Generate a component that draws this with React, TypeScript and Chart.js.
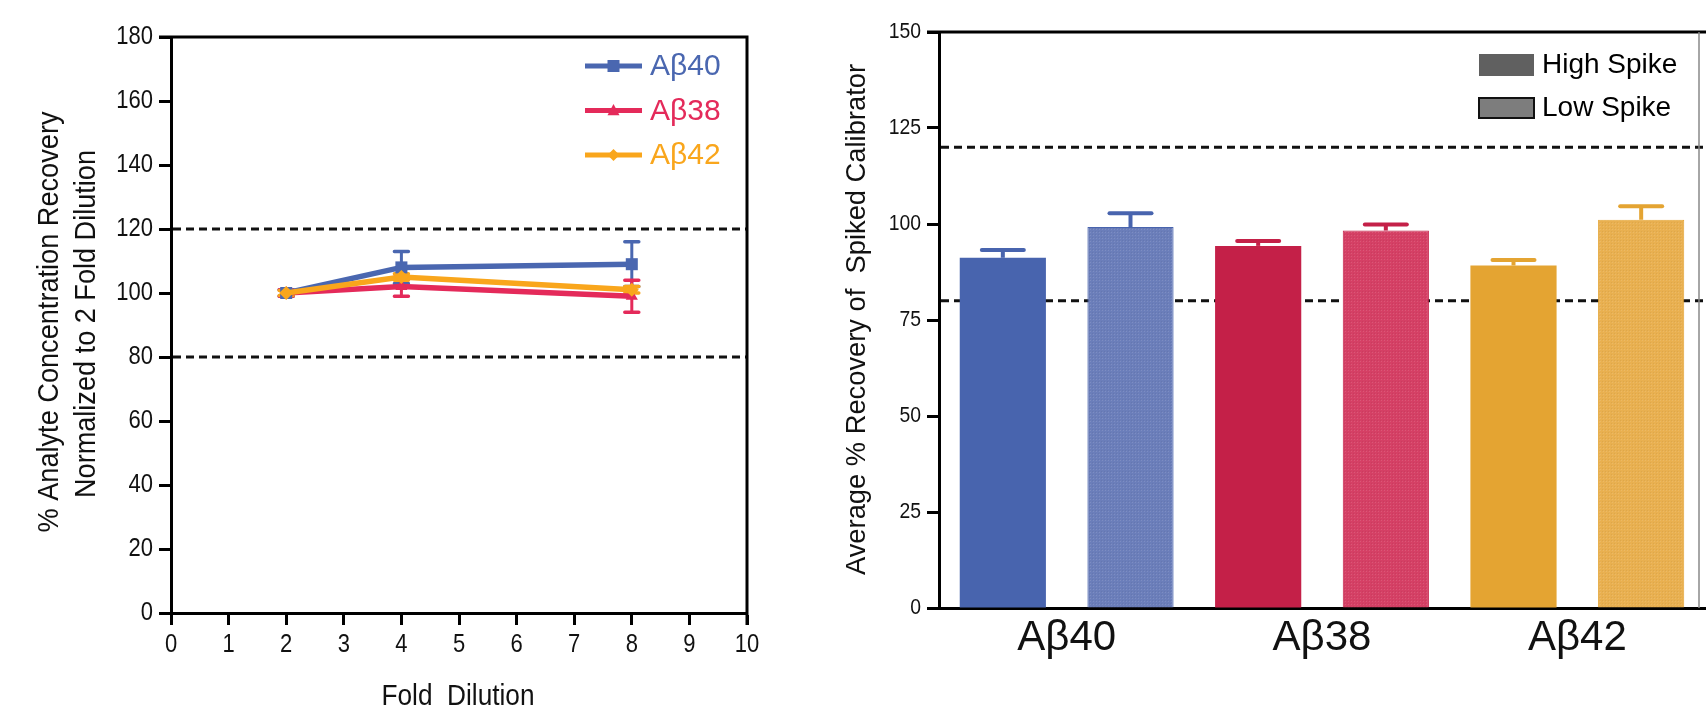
import React, { useEffect, useRef } from 'react';
import { Chart, registerables } from 'chart.js';
Chart.register(...registerables);

// ---------- data (left: dilution linearity) ----------
const dilutionFolds = [2, 4, 8];
const ab40Recovery = [100, 108, 109];
const ab40Error = [1, 5, 7];
const ab38Recovery = [100, 102, 99];
const ab38Error = [1, 3, 5];
const ab42Recovery = [100, 105, 101];
const ab42Error = [0.8, 1, 1];
const acceptanceLimits = [80, 120];

// ---------- data (right: spike recovery) ----------
const analytes = ['Aβ40', 'Aβ38', 'Aβ42'];
const highSpikeRecovery = [91.2, 94.3, 89.2];
const highSpikeError = [2.0, 1.3, 1.4];
const lowSpikeRecovery = [99.2, 98.3, 101.1];
const lowSpikeError = [3.6, 1.6, 3.5];

const SANS = "'Liberation Sans', Arial, Helvetica, sans-serif";
const BLUE = '#4A67B0';
const RED = '#E42A5A';
const ORANGE = '#F9A61C';
const highColors = ['#4864AE', '#C42048', '#E4A432'];
const lowColors = ['#6B7EBA', '#D54065', '#E9B050'];

const lineSeries = [
  { label: 'Aβ40', values: ab40Recovery, err: ab40Error, color: BLUE, style: 'rect', order: 1 },
  { label: 'Aβ38', values: ab38Recovery, err: ab38Error, color: RED, style: 'triangle', order: 2 },
  { label: 'Aβ42', values: ab42Recovery, err: ab42Error, color: ORANGE, style: 'rectRot', order: 0 },
];

type TxtOpts = {
  size: number;
  color?: string;
  align?: CanvasTextAlign;
  sx?: number;
  width?: number;
  rotate?: boolean;
};

function txt(ctx: CanvasRenderingContext2D, s: string, x: number, y: number, o: TxtOpts) {
  ctx.save();
  ctx.translate(x, y);
  if (o.rotate) ctx.rotate(-Math.PI / 2);
  ctx.font = `${o.size}px ${SANS}`;
  const w = ctx.measureText(s).width;
  const k = o.width ? o.width / w : o.sx ?? 1;
  ctx.scale(k, 1);
  ctx.fillStyle = o.color ?? '#111';
  ctx.textAlign = o.align ?? 'center';
  ctx.textBaseline = 'middle';
  ctx.fillText(s, 0, 0);
  ctx.restore();
}

function marker(ctx: CanvasRenderingContext2D, style: string, x: number, y: number, r: number, color: string) {
  ctx.save();
  ctx.fillStyle = color;
  ctx.beginPath();
  if (style === 'rect') {
    ctx.rect(x - r, y - r, 2 * r, 2 * r);
  } else if (style === 'triangle') {
    ctx.moveTo(x, y - r * 1.1);
    ctx.lineTo(x + r, y + r * 0.8);
    ctx.lineTo(x - r, y + r * 0.8);
    ctx.closePath();
  } else {
    ctx.moveTo(x, y - r);
    ctx.lineTo(x + r, y);
    ctx.lineTo(x, y + r);
    ctx.lineTo(x - r, y);
    ctx.closePath();
  }
  ctx.fill();
  ctx.restore();
}

function dashed(ctx: CanvasRenderingContext2D, x0: number, x1: number, py: number) {
  ctx.save();
  ctx.setLineDash([8, 5]);
  ctx.lineWidth = 3;
  ctx.strokeStyle = '#111';
  ctx.beginPath();
  ctx.moveTo(x0, py);
  ctx.lineTo(x1, py);
  ctx.stroke();
  ctx.restore();
}

function dotted(base: string): CanvasPattern | string {
  const c = document.createElement('canvas');
  c.width = 3;
  c.height = 3;
  const g = c.getContext('2d');
  if (!g) return base;
  g.fillStyle = base;
  g.fillRect(0, 0, 3, 3);
  g.fillStyle = 'rgba(255,255,255,0.12)';
  g.fillRect(1, 1, 1, 1);
  g.fillStyle = 'rgba(0,0,0,0.05)';
  g.fillRect(0, 0, 1, 1);
  return g.createPattern(c, 'repeat') ?? base;
}

const lineDeco = {
  id: 'lineDeco',
  beforeDatasetsDraw(chart: any) {
    const { ctx, chartArea, scales } = chart;
    const y = scales.y;
    acceptanceLimits.forEach((v) => dashed(ctx, chartArea.left + 2, chartArea.right, y.getPixelForValue(v)));
    lineSeries.forEach((s, i) => {
      const meta = chart.getDatasetMeta(i);
      meta.data.forEach((pt: any, j: number) => {
        const hi = y.getPixelForValue(s.values[j] + s.err[j]);
        const lo = y.getPixelForValue(s.values[j] - s.err[j]);
        ctx.save();
        ctx.strokeStyle = s.color;
        ctx.lineWidth = 3;
        ctx.beginPath();
        ctx.moveTo(pt.x, hi);
        ctx.lineTo(pt.x, lo);
        ctx.stroke();
        ctx.lineWidth = 3.5;
        ctx.lineCap = 'round';
        ctx.beginPath();
        ctx.moveTo(pt.x - 7, hi);
        ctx.lineTo(pt.x + 7, hi);
        ctx.moveTo(pt.x - 7, lo);
        ctx.lineTo(pt.x + 7, lo);
        ctx.stroke();
        ctx.restore();
      });
    });
  },
  afterDraw(chart: any) {
    const { ctx, chartArea, scales } = chart;
    const { left, right, top, bottom } = chartArea;
    ctx.save();
    ctx.strokeStyle = '#000';
    ctx.lineWidth = 3;
    ctx.beginPath();
    ctx.moveTo(left - 12, top);
    ctx.lineTo(right + 1.5, top);
    ctx.moveTo(right, top);
    ctx.lineTo(right, bottom + 12);
    ctx.stroke();
    ctx.restore();
    scales.y.ticks.forEach((t: any) => {
      txt(ctx, String(t.value), 153, scales.y.getPixelForValue(t.value), { size: 26.5, sx: 0.83, align: 'right' });
    });
    scales.x.ticks.forEach((t: any) => {
      txt(ctx, String(t.value), scales.x.getPixelForValue(t.value), 645, { size: 26.5, sx: 0.83 });
    });
    txt(ctx, '% Analyte Concentration Recovery', 50, 322, { size: 30, width: 421, rotate: true });
    txt(ctx, 'Normalized to 2 Fold Dilution', 87, 324, { size: 30, width: 348, rotate: true });
    txt(ctx, 'Fold  Dilution', 458, 697, { size: 30, width: 153 });
    // legend
    lineSeries.forEach((s, i) => {
      const ly = 66 + i * 44.5;
      ctx.save();
      ctx.strokeStyle = s.color;
      ctx.lineWidth = 5;
      ctx.beginPath();
      ctx.moveTo(585, ly);
      ctx.lineTo(642, ly);
      ctx.stroke();
      ctx.restore();
      marker(ctx, s.style, 613.5, ly, 6, s.color);
      txt(ctx, s.label, 650, ly + 1, { size: 30, align: 'left', color: s.color });
    });
  },
};

const barDeco = {
  id: 'barDeco',
  beforeDatasetsDraw(chart: any) {
    const { ctx, chartArea, scales } = chart;
    acceptanceLimits.forEach((v) => dashed(ctx, chartArea.left + 2, chartArea.right, scales.y.getPixelForValue(v)));
  },
  afterDatasetsDraw(chart: any) {
    const { ctx, scales } = chart;
    const sets = [
      { values: highSpikeRecovery, err: highSpikeError },
      { values: lowSpikeRecovery, err: lowSpikeError },
    ];
    sets.forEach((s, i) => {
      const meta = chart.getDatasetMeta(i);
      meta.data.forEach((el: any, j: number) => {
        const topY = scales.y.getPixelForValue(s.values[j] + s.err[j]);
        ctx.save();
        ctx.strokeStyle = highColors[j];
        ctx.lineWidth = 4;
        ctx.beginPath();
        ctx.moveTo(el.x, el.y);
        ctx.lineTo(el.x, topY);
        ctx.stroke();
        ctx.lineCap = 'round';
        ctx.beginPath();
        ctx.moveTo(el.x - 21, topY);
        ctx.lineTo(el.x + 21, topY);
        ctx.stroke();
        ctx.restore();
      });
    });
  },
  afterDraw(chart: any) {
    const { ctx, chartArea, scales } = chart;
    const { left, right, top, bottom } = chartArea;
    ctx.save();
    ctx.strokeStyle = '#000';
    ctx.lineWidth = 3;
    ctx.beginPath();
    ctx.moveTo(left - 12, top);
    ctx.lineTo(chart.width, top);
    ctx.stroke();
    ctx.strokeStyle = '#888';
    ctx.lineWidth = 1.5;
    ctx.beginPath();
    ctx.moveTo(right - 6, top);
    ctx.lineTo(right - 6, bottom);
    ctx.stroke();
    ctx.restore();
    scales.y.ticks.forEach((t: any) => {
      txt(ctx, String(t.value), 141, scales.y.getPixelForValue(t.value), { size: 22.5, sx: 0.86, align: 'right' });
    });
    analytes.forEach((a, j) => {
      txt(ctx, a, scales.x.getPixelForValue(j), 638, { size: 42 });
    });
    txt(ctx, 'Average % Recovery of  Spiked Calibrator', 77, 319.5, { size: 28, width: 511, rotate: true });
    // legend
    const items = [
      { label: 'High Spike', fill: '#606060', stroke: null as string | null, y: 65 },
      { label: 'Low Spike', fill: '#7d7d7d', stroke: '#111', y: 108 },
    ];
    items.forEach((it) => {
      ctx.save();
      ctx.fillStyle = it.fill;
      ctx.fillRect(699, it.y - 11, 55, 22);
      if (it.stroke) {
        ctx.strokeStyle = it.stroke;
        ctx.lineWidth = 2;
        ctx.strokeRect(699, it.y - 10, 55, 20);
      }
      ctx.restore();
      txt(ctx, it.label, 762, it.y, { size: 28, align: 'left', color: '#000' });
    });
  },
};

export default function App() {
  const leftRef = useRef<HTMLCanvasElement>(null);
  const rightRef = useRef<HTMLCanvasElement>(null);

  useEffect(() => {
    Chart.defaults.font.family = SANS;
    const left = new Chart(leftRef.current as HTMLCanvasElement, {
      type: 'line',
      data: {
        datasets: lineSeries.map((s) => ({
          label: s.label,
          data: dilutionFolds.map((x, i) => ({ x, y: s.values[i] })),
          borderColor: s.color,
          backgroundColor: s.color,
          borderWidth: 5.5,
          pointStyle: s.style as any,
          pointRadius: s.style === 'rect' ? 8.5 : 7,
          pointBorderWidth: 0,
          tension: 0,
          order: s.order,
        })),
      },
      options: {
        responsive: false,
        animation: false,
        layout: { autoPadding: false, padding: { left: 0, right: 33, top: 37, bottom: 0 } },
        plugins: { legend: { display: false }, tooltip: { enabled: false } },
        scales: {
          x: {
            type: 'linear',
            min: 0,
            max: 10,
            ticks: { stepSize: 1, display: false },
            grid: { drawOnChartArea: false, tickLength: 12, tickWidth: 3, tickColor: '#000' },
            border: { color: '#000', width: 3 },
            afterFit: (s: any) => { s.height = 100; },
          },
          y: {
            min: 0,
            max: 180,
            ticks: { stepSize: 20, display: false },
            grid: { drawOnChartArea: false, tickLength: 12, tickWidth: 3, tickColor: '#000' },
            border: { color: '#000', width: 3 },
            afterFit: (s: any) => { s.width = 171; },
          },
        },
      } as any,
      plugins: [lineDeco],
    });

    const right = new Chart(rightRef.current as HTMLCanvasElement, {
      type: 'bar',
      data: {
        labels: analytes,
        datasets: [
          {
            label: 'High Spike',
            data: highSpikeRecovery,
            backgroundColor: highColors,
            borderWidth: 0,
          },
          {
            label: 'Low Spike',
            data: lowSpikeRecovery,
            backgroundColor: lowColors.map((c) => dotted(c)) as any,
            borderColor: highColors,
            borderWidth: 1,
          },
        ],
      },
      options: {
        responsive: false,
        animation: false,
        categoryPercentage: 1,
        barPercentage: 0.675,
        layout: { autoPadding: false, padding: { left: 0, right: 1, top: 32, bottom: 0 } },
        plugins: { legend: { display: false }, tooltip: { enabled: false } },
        scales: {
          x: {
            ticks: { display: false },
            grid: { display: false },
            border: { color: '#000', width: 3 },
            afterFit: (s: any) => { s.height = 105; },
          },
          y: {
            min: 0,
            max: 150,
            ticks: { stepSize: 25, display: false },
            grid: { drawOnChartArea: false, tickLength: 12, tickWidth: 3, tickColor: '#000' },
            border: { color: '#000', width: 3 },
            afterFit: (s: any) => { s.width = 159; },
          },
        },
      } as any,
      plugins: [barDeco],
    });

    return () => {
      left.destroy();
      right.destroy();
    };
  }, []);

  return (
    <div style={{ position: 'absolute', left: 0, top: 0, width: 1706, height: 713, background: '#fff', overflow: 'hidden' }}>
      <canvas ref={leftRef} width={780} height={713} style={{ position: 'absolute', left: 0, top: 0 }} />
      <canvas ref={rightRef} width={926} height={713} style={{ position: 'absolute', left: 780, top: 0 }} />
    </div>
  );
}
